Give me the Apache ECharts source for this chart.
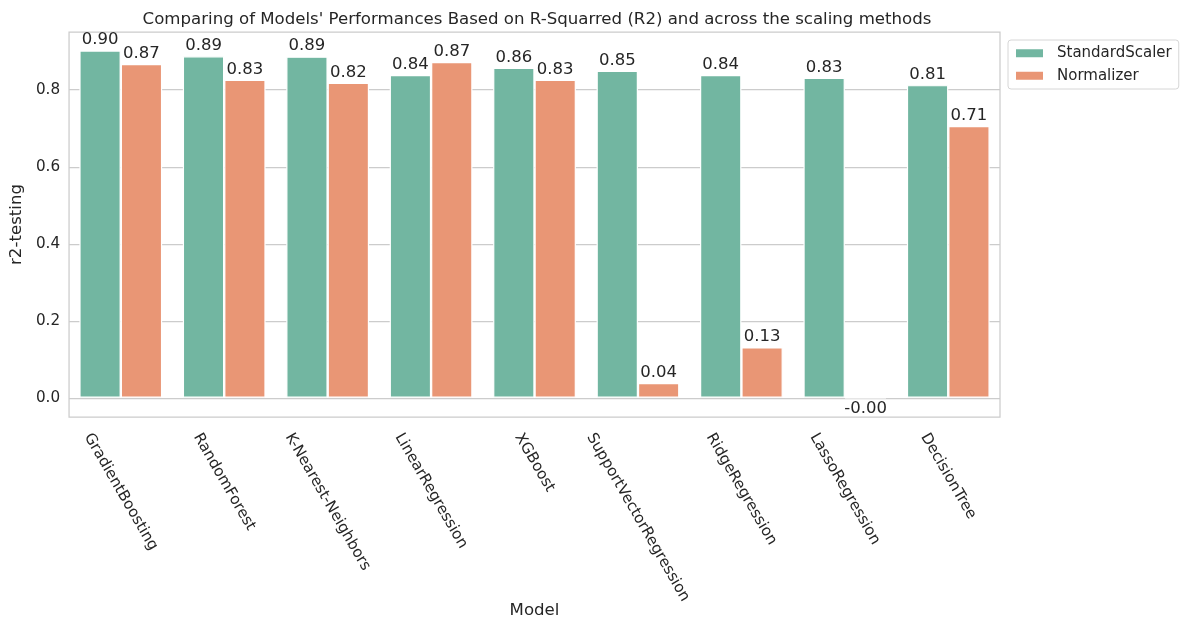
<!DOCTYPE html>
<html><head><meta charset="utf-8">
<script src="https://cdn.jsdelivr.net/npm/echarts@6/dist/echarts.min.js"></script>
<style>html,body{margin:0;padding:0;background:#fff}#c{width:1189px;height:631px}</style>
</head><body><div id="c"></div>
<script>
const categories = ['GradientBoosting','RandomForest','K-Nearest-Neighbors','LinearRegression','XGBoost','SupportVectorRegression','RidgeRegression','LassoRegression','DecisionTree'];
const standardScaler = [0.902, 0.887, 0.886, 0.838, 0.857, 0.849, 0.838, 0.831, 0.812];
const normalizer = [0.867, 0.826, 0.818, 0.872, 0.826, 0.038, 0.131, -0.001, 0.706];
const yTicks = [0.0, 0.2, 0.4, 0.6, 0.8];
const seriesNames = ['StandardScaler', 'Normalizer'];

const FONT = '"DejaVu Sans", sans-serif';
const TXT = '#262626';
const yMin = -0.05, yMax = 0.95;

const chart = echarts.init(document.getElementById('c'), null, {renderer: 'canvas'});

function labelCfg() {
  return {show: true, position: 'top', distance: 2, color: TXT, fontFamily: FONT, fontSize: 16.5,
    formatter: p => Number(p.value).toFixed(2)};
}
function mkData(arr) {
  return arr.map(v => v < 0 ? {value: v, label: {position: 'bottom', distance: 2}} : v);
}

chart.setOption({
  animation: false,
  backgroundColor: '#fff',
  title: {text: "Comparing of Models' Performances Based on R-Squarred (R2) and across the scaling methods",
    left: 532, textAlign: 'center', top: 6,
    textStyle: {fontFamily: FONT, fontSize: 16.6, fontWeight: 'normal', color: TXT}},
  legend: {orient: 'vertical', left: 1008, top: 40, padding: [5, 7, 5, 6],
    itemWidth: 29, itemHeight: 10, itemGap: 6, icon: 'rect',
    backgroundColor: '#fff', borderColor: '#d6d6d6', borderWidth: 1, borderRadius: 3,
    textStyle: {fontFamily: FONT, fontSize: 15, color: TXT, lineHeight: 16.5, padding: [0, 0, 0, 8]},
    data: seriesNames},
  grid: {left: 66, right: 189, top: 32, bottom: 214, show: true, borderColor: '#cccccc', borderWidth: 1.25, containLabel: false},
  xAxis: {type: 'category', data: categories,
    name: 'Model', nameLocation: 'middle', nameGap: 185,
    nameTextStyle: {fontFamily: FONT, fontSize: 16.6, color: TXT},
    axisLine: {show: false}, axisTick: {show: false}, axisLabel: {show: false}, splitLine: {show: false}},
  yAxis: {type: 'value', min: yMin, max: yMax,
    name: 'r2-testing', nameLocation: 'middle', nameGap: 37, nameRotate: 90,
    nameTextStyle: {fontFamily: FONT, fontSize: 16.6, color: TXT},
    axisLine: {show: false},
    axisTick: {show: false, customValues: yTicks},
    axisLabel: {customValues: yTicks, color: TXT, fontFamily: FONT, fontSize: 15.2, margin: 9,
      formatter: v => Number(v).toFixed(1)},
    splitLine: {show: true, lineStyle: {color: '#cccccc', width: 1.25}}},
  series: [
    {name: seriesNames[0], type: 'bar', data: mkData(standardScaler), barGap: '0%', barCategoryGap: '20%',
      itemStyle: {color: '#72b6a1', borderColor: '#fff', borderWidth: 1.2}, label: labelCfg()},
    {name: seriesNames[1], type: 'bar', data: mkData(normalizer),
      itemStyle: {color: '#e99675', borderColor: '#fff', borderWidth: 1.2}, label: labelCfg()}
  ]
});

// rotated x tick labels, centered under each category like matplotlib (ha=center, va=top)
const ctx = document.createElement('canvas').getContext('2d');
const fs = 15.2;
ctx.font = fs + 'px "DejaVu Sans"';
const ang = Math.PI / 3;
const axisY = chart.convertToPixel({yAxisIndex: 0}, yMin);
const graphics = categories.map(c => {
  const x = chart.convertToPixel({xAxisIndex: 0}, c);
  const L = ctx.measureText(c).width;
  const h = fs * 1.17;
  const bh = L * Math.sin(ang) + h * Math.cos(ang);
  return {type: 'text', x: x, y: axisY + 13 + bh / 2, rotation: -ang, silent: true,
    style: {text: c, fill: TXT, font: fs + 'px ' + FONT, align: 'center', verticalAlign: 'middle'}};
});
chart.setOption({graphic: graphics});
</script></body></html>
